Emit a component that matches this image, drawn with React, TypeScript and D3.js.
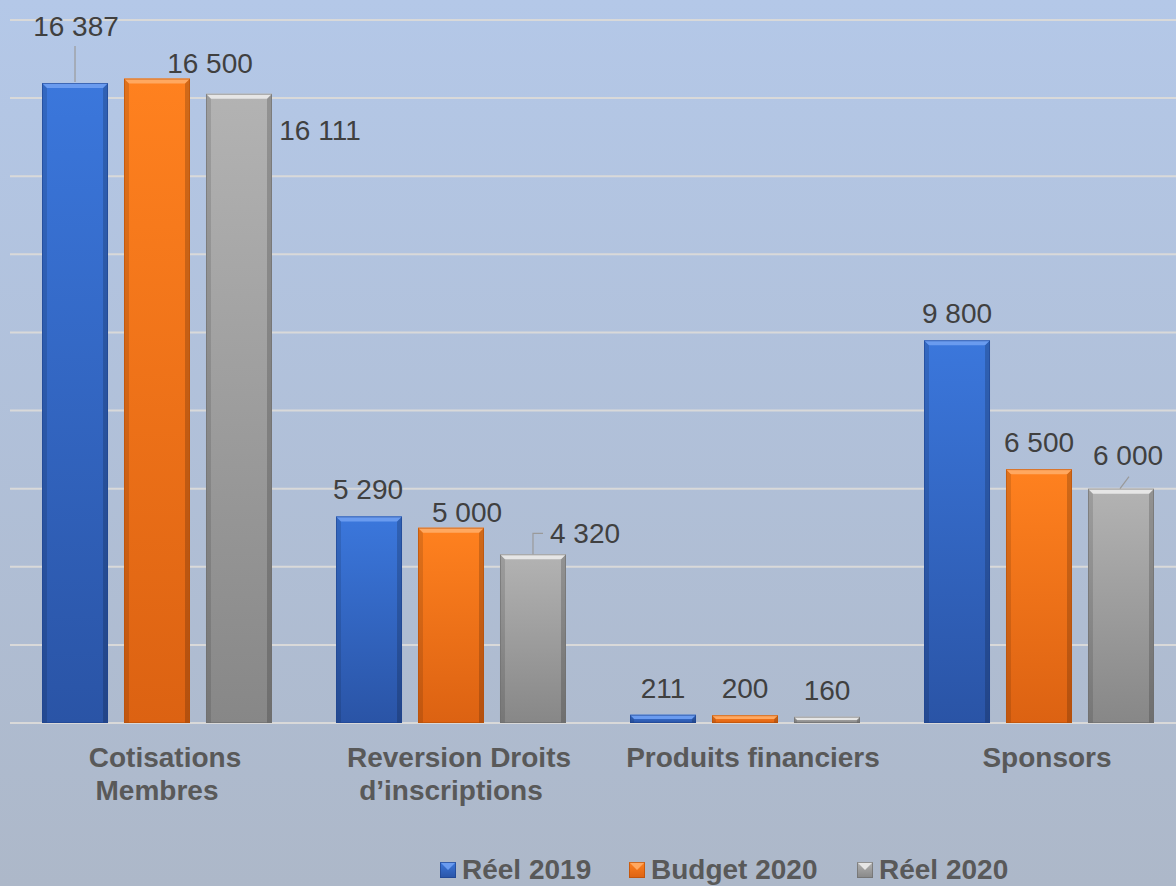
import React from "react";
import * as d3 from "d3";

const categories: string[][] = [
  ["Cotisations", "Membres"],
  ["Reversion Droits", "d’inscriptions"],
  ["Produits financiers"],
  ["Sponsors"],
];
const seriesNames = ["Réel 2019", "Budget 2020", "Réel 2020"];
const reel2019 = [16387, 5290, 211, 9800];
const budget2020 = [16500, 5000, 200, 6500];
const reel2020 = [16111, 4320, 160, 6000];
const labelTexts = [
  ["16 387", "5 290", "211", "9 800"],
  ["16 500", "5 000", "200", "6 500"],
  ["16 111", "4 320", "160", "6 000"],
];
const yTicks = [0, 2000, 4000, 6000, 8000, 10000, 12000, 14000, 16000, 18000];

// layout (label offsets relative to default "above bar" position)
const labelOffsets = [
  [[1, -30], [-1, 0], [0, 0], [0, 0]],
  [[53, 11], [16, 11], [0, 0], [0, 0]],
  [[81, 63], [52, 6], [0, 0], [7, -7]],
];

const W = 1176;
const H = 886;
const plotLeft = 10;
const plotRight = 1186;
const plotTop = 20;
const plotBottom = 723;

const styles = [
  { top: "#3b77dc", bottom: "#2a54a6", hi: "#6a9bef", edge: "#1f4590" },
  { top: "#ff811f", bottom: "#dc6212", hi: "#ffa860", edge: "#b85008" },
  { top: "#b3b3b3", bottom: "#878787", hi: "#e6e6e6", edge: "#6e6e6e" },
];

export default function App() {
  const series = [reel2019, budget2020, reel2020];
  const x0 = d3
    .scaleBand<number>()
    .domain(d3.range(categories.length))
    .range([plotLeft, plotRight])
    .padding(0);
  const x1 = d3
    .scaleBand<number>()
    .domain(d3.range(series.length))
    .range([32, x0.bandwidth() - 32])
    .paddingInner(0.195)
    .paddingOuter(0);
  const y = d3.scaleLinear().domain([0, 18000]).range([plotBottom, plotTop]);
  const font = "'Liberation Sans', Arial, sans-serif";

  const bars: React.ReactNode[] = [];
  const labels: React.ReactNode[] = [];
  series.forEach((vals, si) => {
    vals.forEach((v, ci) => {
      const bx = x0(ci)! + x1(si)!;
      const bw = x1.bandwidth();
      const by = y(v);
      const bh = y(0) - by;
      const b = Math.min(5, bh / 2);
      const st = styles[si];
      bars.push(
        <g key={`b${si}-${ci}`}>
          <rect x={bx} y={by} width={bw} height={bh} fill={`url(#grad${si})`} />
          <polygon
            points={`${bx},${by} ${bx + b},${by + b} ${bx + b},${by + bh} ${bx},${by + bh}`}
            fill="#000"
            opacity={0.12}
          />
          <polygon
            points={`${bx + bw},${by} ${bx + bw - b},${by + b} ${bx + bw - b},${by + bh} ${bx + bw},${by + bh}`}
            fill="#000"
            opacity={0.18}
          />
          <polygon
            points={`${bx},${by} ${bx + bw},${by} ${bx + bw - b},${by + b} ${bx + b},${by + b}`}
            fill={st.hi}
          />
          <rect
            x={bx + 0.5}
            y={by + 0.5}
            width={bw - 1}
            height={Math.max(0, bh - 1)}
            fill="none"
            stroke={st.edge}
            strokeOpacity={0.6}
            strokeWidth={1}
          />
        </g>
      );
      const [dx, dy] = labelOffsets[si][ci];
      labels.push(
        <text
          key={`l${si}-${ci}`}
          x={bx + bw / 2 + dx}
          y={by - 17 + dy}
          textAnchor="middle"
          fontSize={28}
          fill="#404040"
          fontFamily={font}
        >
          {labelTexts[si][ci]}
        </text>
      );
    });
  });

  const cx = (ci: number, si: number) => x0(ci)! + x1(si)! + x1.bandwidth() / 2;
  const leaders = [
    `M${cx(0, 0)},${y(reel2019[0]) - 1} L${cx(0, 0)},${y(reel2019[0]) - 37}`,
    `M${cx(1, 2)},${y(reel2020[1])} L${cx(1, 2)},${y(reel2020[1]) - 21} L${cx(1, 2) + 10},${y(reel2020[1]) - 21}`,
    `M${cx(3, 2) - 1},${y(reel2020[3])} L${cx(3, 2) + 8},${y(reel2020[3]) - 12}`,
  ];

  const legendX = [440, 629, 857];
  const legendBase = 879;

  return (
    <svg
      width={W}
      height={H}
      style={{ position: "absolute", left: 0, top: 0 }}
    >
      <defs>
        <linearGradient id="bg" x1="0" y1="0" x2="0" y2="1">
          <stop offset="0" stopColor="#b4c8e8" />
          <stop offset="1" stopColor="#adb8c9" />
        </linearGradient>
        {styles.map((s, i) => (
          <linearGradient key={i} id={`grad${i}`} x1="0" y1="0" x2="0" y2="1">
            <stop offset="0" stopColor={s.top} />
            <stop offset="1" stopColor={s.bottom} />
          </linearGradient>
        ))}
      </defs>
      <rect x={0} y={0} width={W} height={H} fill="url(#bg)" />
      {yTicks.map((t) => (
        <line
          key={t}
          x1={plotLeft}
          x2={plotRight}
          y1={y(t)}
          y2={y(t)}
          stroke="#d9d9d9"
          strokeWidth={2}
        />
      ))}
      {bars}
      {leaders.map((d, i) => (
        <path key={i} d={d} fill="none" stroke="#9a9a9a" strokeWidth={1.2} />
      ))}
      {labels}
      {categories.map((lines, ci) => (
        <text
          key={`c${ci}`}
          textAnchor="middle"
          fontSize={28}
          fontWeight="bold"
          fill="#595959"
          fontFamily={font}
        >
          {lines.map((ln, li) => (
            <tspan
              key={li}
              x={x0(ci)! + x0.bandwidth() / 2 + (li === 0 ? 8 : 0)}
              y={767 + li * 33}
            >
              {ln}
            </tspan>
          ))}
        </text>
      ))}
      {seriesNames.map((name, si) => {
        const st = styles[si];
        const lx = legendX[si];
        const my = legendBase - 17;
        return (
          <g key={`lg${si}`}>
            <rect x={lx} y={my} width={16} height={16} fill={`url(#grad${si})`} />
            <polygon
              points={`${lx},${my} ${lx + 16},${my} ${lx + 8},${my + 8}`}
              fill={st.hi}
            />
            <rect
              x={lx + 0.5}
              y={my + 0.5}
              width={15}
              height={15}
              fill="none"
              stroke={st.edge}
              strokeOpacity={0.7}
            />
            <text
              x={lx + 22}
              y={legendBase}
              fontSize={28}
              fontWeight="bold"
              fill="#595959"
              fontFamily={font}
            >
              {name}
            </text>
          </g>
        );
      })}
    </svg>
  );
}
